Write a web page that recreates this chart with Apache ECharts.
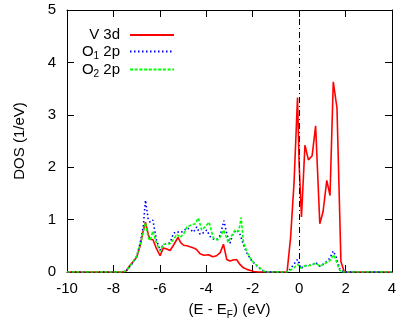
<!DOCTYPE html>
<html>
<head>
<meta charset="utf-8">
<script src="https://cdn.jsdelivr.net/npm/echarts@6/dist/echarts.min.js"></script>
<style>html,body{margin:0;padding:0;background:#fff;}#c{width:404px;height:325px;}</style>
</head>
<body>
<div id="c"></div>
<script>
// Series names
const seriesNames = ['V 3d', 'O1 2p', 'O2 2p'];
// Axis ticks
const xTicks = [-10, -8, -6, -4, -2, 0, 2, 4];
const yTicks = [0, 1, 2, 3, 4, 5];
// Fermi level
const fermiLevel = [0];

// V 3d DOS [E - EF, DOS]
const vDos = [[-10,0],[-7.6,0],[-7.45,0.02],[-7.3,0.12],[-7.15,0.2],[-7.0,0.28],[-6.85,0.5],[-6.72,0.78],[-6.62,0.95],[-6.5,0.72],[-6.42,0.62],[-6.3,0.62],[-6.15,0.45],[-5.99,0.31],[-5.85,0.46],[-5.7,0.44],[-5.56,0.41],[-5.4,0.52],[-5.22,0.66],[-5.1,0.56],[-4.98,0.51],[-4.84,0.50],[-4.7,0.48],[-4.55,0.46],[-4.42,0.43],[-4.27,0.35],[-4.1,0.32],[-3.9,0.33],[-3.72,0.29],[-3.56,0.31],[-3.4,0.37],[-3.26,0.53],[-3.12,0.24],[-2.98,0.21],[-2.84,0.23],[-2.7,0.24],[-2.54,0.14],[-2.4,0.08],[-2.25,0.05],[-2.1,0.03],[-1.95,0.01],[-1.8,0],[-0.52,0],[-0.37,0.65],[-0.22,1.7],[-0.07,3.33],[0.0,2.05],[0.1,1.05],[0.25,2.42],[0.4,2.14],[0.56,2.22],[0.71,2.79],[0.89,0.92],[1.03,1.15],[1.19,1.75],[1.33,1.46],[1.47,3.63],[1.63,3.13],[1.8,0.2],[1.93,0.02],[2.05,0],[4,0]];

// O1 2p DOS
const o1Dos = [[-10,0],[-7.6,0],[-7.45,0.02],[-7.3,0.1],[-7.15,0.18],[-7.0,0.3],[-6.85,0.55],[-6.72,0.85],[-6.62,1.37],[-6.5,1.0],[-6.42,0.95],[-6.3,0.99],[-6.15,0.62],[-5.99,0.41],[-5.85,0.52],[-5.7,0.54],[-5.56,0.56],[-5.41,0.74],[-5.27,0.77],[-5.13,0.75],[-4.98,0.78],[-4.84,0.84],[-4.7,0.82],[-4.55,0.76],[-4.41,0.86],[-4.27,0.72],[-4.12,0.75],[-3.98,0.8],[-3.84,0.68],[-3.69,0.63],[-3.55,0.62],[-3.4,0.7],[-3.24,0.98],[-3.1,0.7],[-2.98,0.55],[-2.84,0.74],[-2.7,0.8],[-2.56,0.74],[-2.4,0.52],[-2.25,0.36],[-2.05,0.22],[-1.83,0.12],[-1.62,0.04],[-1.45,0],[-0.55,0],[-0.4,0.05],[-0.22,0.15],[-0.07,0.24],[0.07,0.07],[0.25,0.12],[0.4,0.13],[0.56,0.13],[0.71,0.18],[0.89,0.11],[1.03,0.15],[1.19,0.2],[1.33,0.27],[1.47,0.4],[1.6,0.28],[1.75,0.06],[1.9,0],[4,0]];

// O2 2p DOS
const o2Dos = [[-10,0],[-7.6,0],[-7.45,0.02],[-7.3,0.1],[-7.15,0.2],[-7.0,0.3],[-6.85,0.52],[-6.72,0.75],[-6.62,0.94],[-6.5,0.65],[-6.42,0.6],[-6.3,0.78],[-6.15,0.55],[-5.99,0.40],[-5.85,0.53],[-5.7,0.53],[-5.56,0.54],[-5.41,0.62],[-5.27,0.72],[-5.13,0.66],[-4.98,0.72],[-4.84,0.86],[-4.69,0.89],[-4.48,0.92],[-4.34,1.03],[-4.2,0.8],[-4.05,0.86],[-3.88,0.95],[-3.7,0.65],[-3.5,0.61],[-3.38,0.68],[-3.25,0.8],[-3.06,0.57],[-2.9,0.7],[-2.76,0.8],[-2.6,0.78],[-2.5,1.04],[-2.4,0.57],[-2.25,0.38],[-2.05,0.22],[-1.83,0.13],[-1.62,0.05],[-1.45,0],[-0.55,0],[-0.4,0.03],[-0.22,0.08],[-0.07,0.15],[0.07,0.07],[0.25,0.12],[0.4,0.12],[0.56,0.13],[0.71,0.17],[0.89,0.11],[1.03,0.14],[1.19,0.18],[1.33,0.22],[1.5,0.33],[1.62,0.18],[1.75,0.03],[1.9,0],[4,0]];

const FONT = 'Liberation Sans, Arial, Helvetica, sans-serif';
const chart = echarts.init(document.getElementById('c'), null, {renderer: 'canvas'});

function baseX(pos, labels) {
  return {
    type: 'value', position: pos, min: xTicks[0], max: xTicks[xTicks.length - 1], interval: xTicks[1] - xTicks[0],
    axisLine: {show: true, onZero: false, lineStyle: {color: '#000', width: 1}},
    axisTick: {show: true, inside: true, length: 7, lineStyle: {color: '#000'}},
    axisLabel: {show: labels, color: '#000', fontSize: 15, fontFamily: FONT, margin: 9},
    splitLine: {show: false}
  };
}
function baseY(pos, labels) {
  return {
    type: 'value', position: pos, min: yTicks[0], max: yTicks[yTicks.length - 1], interval: yTicks[1] - yTicks[0],
    axisLine: {show: true, onZero: false, lineStyle: {color: '#000', width: 1}},
    axisTick: {show: true, inside: true, length: 7, lineStyle: {color: '#000'}},
    axisLabel: {show: labels, color: '#000', fontSize: 15, fontFamily: FONT, margin: 11},
    splitLine: {show: false}
  };
}

const xMain = baseX('bottom', true);
xMain.name = '(E - E{sub|F}) (eV)';
xMain.nameLocation = 'middle';
xMain.nameGap = 28;
xMain.nameTextStyle = {color: '#000', fontSize: 15, fontFamily: FONT,
  rich: {sub: {fontSize: 10, fontFamily: FONT, color: '#000', padding: [10, 0, 0, 0]}}};
const yMain = baseY('left', true);
yMain.name = 'DOS (1/eV)';
yMain.nameLocation = 'middle';
yMain.nameGap = 40;
yMain.nameTextStyle = {color: '#000', fontSize: 15, fontFamily: FONT};

const colors = ['#ff0000', '#0000ff', '#00ff00'];
const dashes = ['solid', [1.5, 2.5], [3, 1.7]];
const datasets = [vDos, o1Dos, o2Dos];

const series = seriesNames.map((n, i) => ({
  name: n, type: 'line', data: datasets[i], showSymbol: false, symbol: 'none',
  xAxisIndex: 0, yAxisIndex: 0,
  lineStyle: {color: colors[i], width: 1.6, type: dashes[i]},
  itemStyle: {color: colors[i]},
  z: 2 + i,
  animation: false
}));
series[0].markLine = {
  silent: true, symbol: ['none', 'none'], label: {show: false},
  lineStyle: {color: '#000', width: 1, type: [6, 3, 1, 3]},
  data: fermiLevel.map(v => ({xAxis: v})),
  animation: false
};

chart.setOption({
  animation: false,
  backgroundColor: '#fff',
  grid: {left: 67, right: 12, top: 10, bottom: 53},
  xAxis: [xMain, baseX('top', false)],
  yAxis: [yMain, baseY('right', false)],
  legend: {
    orient: 'vertical', left: 65, top: 22, align: 'right',
    itemWidth: 44, itemHeight: 16, itemGap: 0.5,
    itemStyle: {opacity: 0},
    formatter: function (name) {
      return name.replace(/^O(\d)/, 'O{sub|$1}');
    },
    textStyle: {color: '#000', fontSize: 15, fontFamily: FONT, width: 50, align: 'right', padding: [0, 5, 0, 0], lineHeight: 16,
      rich: {sub: {fontSize: 10, fontFamily: FONT, color: '#000', padding: [9, 0, 0, 0]}}},
    data: seriesNames
  },
  series: series
});
</script>
</body>
</html>
